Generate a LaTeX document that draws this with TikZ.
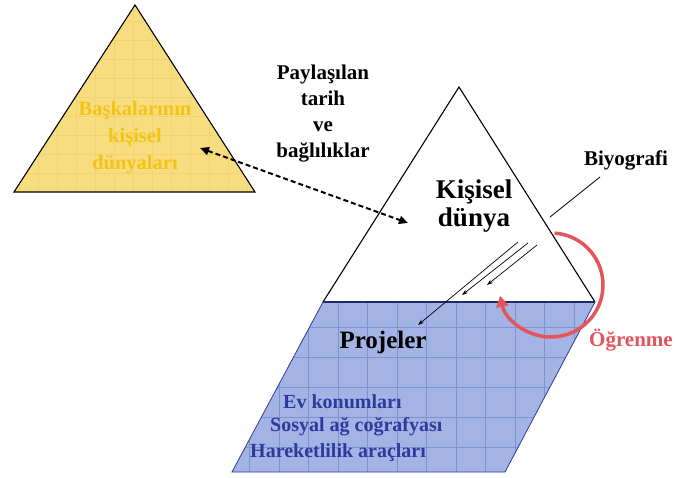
\documentclass[tikz,border=0pt]{standalone}
\usepackage{fontspec}
\setmainfont{Liberation Serif}
\usepackage{tikz}
\usetikzlibrary{arrows.meta,positioning,calc}
\definecolor{sand}{HTML}{F8DD80}
\definecolor{sandline}{HTML}{F0D474}
\definecolor{gold}{HTML}{F4C414}
\definecolor{sky}{HTML}{A2B3E4}
\definecolor{skyline}{HTML}{7F93D3}
\definecolor{ink}{HTML}{2E3A9C}
\definecolor{deepnavy}{HTML}{1E2A6A}
\definecolor{rose}{HTML}{E5545A}
\tikzset{
  edge/.style={draw=black, line width=1.1pt},
  lbl/.style={font=\fontsize{21}{26}\selectfont\bfseries, align=center, text=black},
  biglbl/.style={font=\fontsize{27}{28}\selectfont\bfseries, align=center, text=black},
  goldlbl/.style={lbl, text=gold, font=\fontsize{20.5}{27}\selectfont\bfseries},
  bluelbl/.style={font=\fontsize{20}{24}\selectfont\bfseries, text=ink, anchor=west, inner sep=0pt},
  thin/.style={-{Stealth[length=6pt,width=4pt]}, draw=black, line width=0.7pt},
  shared/.style={{Triangle[length=9pt,width=8pt]}-{Triangle[length=9pt,width=8pt]}, draw=black,
                 line width=2pt, dash pattern=on 5pt off 3pt},
  learn/.style={-{Triangle[length=11pt,width=12pt]}, draw=rose, line width=3.5pt}
}
\begin{document}
\begin{tikzpicture}[x=1pt,y=1pt]
  \useasboundingbox (0,0) rectangle (675,477);
  \coordinate (ytop) at (135,472);
  \coordinate (yleft) at (14,285);
  \coordinate (yright) at (255,285);
  \coordinate (ptop) at (459,390);
  \coordinate (pleft) at (323,175);
  \coordinate (pright) at (595,175);
  \coordinate (gleft) at (232,5);
  \coordinate (gright) at (505,5);

  \fill[sand] (ytop) -- (yleft) -- (yright) -- cycle;
  \begin{scope}
    \clip (ytop) -- (yleft) -- (yright) -- cycle;
    \foreach \x in {0,...,14} \draw[sandline, line width=0.4pt] (\x*19,285) -- (\x*19,477);
    \foreach \y in {0,...,10} \draw[sandline, line width=0.4pt] (0,285+\y*19) -- (260,285+\y*19);
  \end{scope}
  \draw[edge] (ytop) -- (yleft) -- (yright) -- cycle;

  \fill[sky] (pleft) -- (pright) -- (gright) -- (gleft) -- cycle;
  \begin{scope}
    \clip (pleft) -- (pright) -- (gright) -- (gleft) -- cycle;
    \foreach \x in {-4,...,10} \draw[skyline, line width=0.5pt] (338+\x*29.5,0) -- (338+\x*29.5,180);
    \foreach \y in {0,...,5} \draw[skyline, line width=0.5pt] (220,\y*30) -- (600,\y*30);
  \end{scope}
  \draw[draw=ink, line width=0.8pt] (pright) -- (gright) -- (gleft) -- (pleft);
  \draw[edge] (pleft) -- (ptop) -- (pright);
  \draw[draw=deepnavy, line width=2pt] (pleft) -- (pright);

  \node[goldlbl] (others) at (135,339) {Başkalarının\\kişisel\\dünyaları};
  \node[lbl] (shared) at (323,363) {Paylaşılan\\tarih\\ve\\bağlılıklar};
  \node[biglbl] (world) at (474,271) {Kişisel\\dünya};
  \node[lbl] (bio) at (626,317) {Biyografi};
  \node[biglbl, font=\fontsize{25}{28}\selectfont\bfseries] (proj) at (383,135) {Projeler};
  \node[bluelbl] (home) at (283,75) {Ev konumları};
  \node[bluelbl] (social) at (270,50) {Sosyal ağ coğrafyası};
  \node[bluelbl] (mobility) at (250,24) {Hareketlilik araçları};
  \node[lbl, text=rose] (learning) at (631,137) {Öğrenme};

  \coordinate (dashA) at (200,329);
  \coordinate (dashB) at (408,254);
  \draw[shared] (dashA) -- (dashB);

  \coordinate (bioA) at (600,300);
  \coordinate (bioB) at (550,260);
  \draw[line width=0.8pt] (bioA) -- (bioB);

  \coordinate (s1) at (518,235);
  \coordinate (e1) at (418,152);
  \coordinate (s2) at (528,234);
  \coordinate (e2) at (462,182);
  \coordinate (s3) at (537,232);
  \coordinate (e3) at (487,192);
  \draw[thin] (s1) -- (e1);
  \draw[thin] (s2) -- (e2);
  \draw[thin] (s3) -- (e3);

  \coordinate (loop) at (551,192);
  \draw[learn] ($(loop)+(86:52)$) arc[start angle=86, end angle=-168, radius=52];
\end{tikzpicture}
\end{document}
